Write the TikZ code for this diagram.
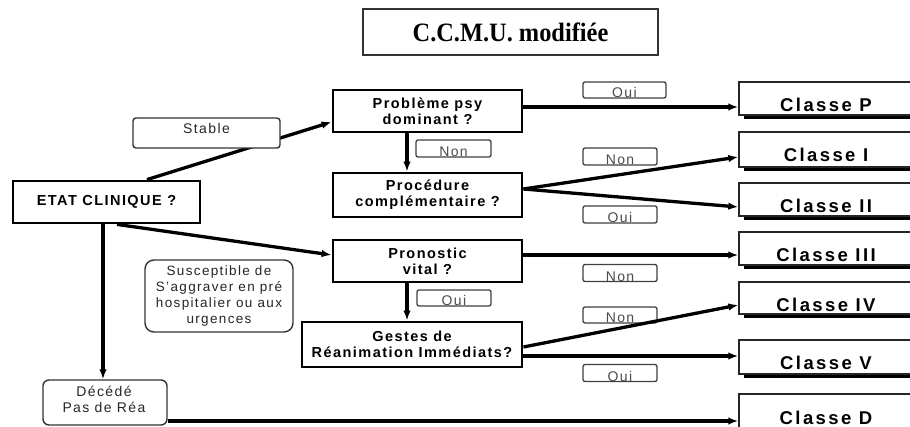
\documentclass[tikz,border=0pt]{standalone}
\usepackage{fontspec}
\setmainfont{Liberation Sans}
\newfontfamily\titlefont[FakeStretch=0.92]{Liberation Serif}
\newfontfamily\boldsp[LetterSpace=10]{Liberation Sans}
\newfontfamily\classsp[LetterSpace=13]{Liberation Sans}
\newfontfamily\regsp[LetterSpace=10]{Liberation Sans}
\usetikzlibrary{arrows.meta}
\begin{document}
\begin{tikzpicture}[x=1pt,y=-1pt,
  titlebox/.style={draw=black!80, line width=1.8pt, fill=white, inner sep=0pt,
    minimum width=295pt, minimum height=46pt,
    font=\titlefont\bfseries\fontsize{26.5}{30}\selectfont},
  mainbox/.style={draw=black, line width=2.8pt, fill=white, inner sep=0pt, align=center,
    font=\boldsp\bfseries\fontsize{14.5}{16}\selectfont},
  classbox/.style={draw=black!85, line width=1.3pt, fill=white, inner sep=0pt,
    minimum width=186pt,
    preaction={fill=black, transform canvas={xshift=5pt,yshift=-4.5pt}}},
  classtext/.style={font=\classsp\bfseries\fontsize{18.5}{20}\selectfont, inner sep=0pt},
  lblbox/.style={draw=black!75, line width=1.3pt, fill=white, rounded corners=2pt,
    minimum width=74pt, minimum height=17pt, inner sep=0pt},
  lbltext/.style={font=\regsp\fontsize{14}{16}\selectfont, text=black!70, inner sep=0pt, anchor=base},
  softbox/.style={draw=black!80, line width=1.4pt, fill=white, inner sep=0pt},
  softtext/.style={font=\regsp\fontsize{14}{16}\selectfont, text=black!85, inner sep=0pt, align=center},
  conn/.style={line width=3.3pt, -{Latex[length=10pt,width=7.5pt]}}
]
\clip (0,0) rectangle (910,427);
\fill[white] (0,0) rectangle (910,427);

% title
\node[titlebox] (title) at (510.5,32) {C.C.M.U. modifiée};

% decision boxes
\node[mainbox, minimum width=189pt, minimum height=42pt] (prob) at (427.5,111) {Problème psy\\dominant ?};
\node[mainbox, minimum width=189pt, minimum height=44pt] (proc) at (427.5,195) {Procédure\\complémentaire ?};
\node[mainbox, minimum width=189pt, minimum height=42pt] (pron) at (427.5,261) {Pronostic\\vital ?};
\node[mainbox, minimum width=220pt, minimum height=45pt] (gest) at (412,344.5) {Gestes de\\Réanimation Immédiats?};
\node[mainbox, minimum width=187pt, minimum height=42pt] (etat) at (106.5,202) {ETAT CLINIQUE ?};

% class boxes
\node[classbox, minimum height=33pt] (cP) at (832,98.5) {};
\node[classbox, minimum height=35pt] (cI) at (832,149.5) {};
\node[classbox, minimum height=33pt] (cII) at (832,199.5) {};
\node[classbox, minimum height=33pt] (cIII) at (832,248.5) {};
\node[classbox, minimum height=32pt] (cIV) at (832,298) {};
\node[classbox, minimum height=34pt] (cV) at (832,357) {};
\node[classbox, minimum height=36pt] (cD) at (832,412) {};
\node[classtext] (tP) at (826,105) {Classe P};
\node[classtext] (tI) at (826,155) {Classe I};
\node[classtext] (tII) at (826,206) {Classe II};
\node[classtext] (tIII) at (826,255) {Classe III};
\node[classtext] (tIV) at (826,305) {Classe IV};
\node[classtext] (tV) at (826,363) {Classe V};
\node[classtext] (tD) at (826,418) {Classe D};

% Oui / Non labels
\node[lblbox, minimum width=83pt, minimum height=16pt] (oui1) at (624.5,90) {};
\node[lblbox, minimum width=75pt] (non0) at (453.5,148.5) {};
\node[lblbox] (non1) at (620,156.5) {};
\node[lblbox] (oui2) at (620,214.5) {};
\node[lblbox] (non2) at (620,273) {};
\node[lblbox, minimum height=16pt] (oui3) at (454,298) {};
\node[lblbox, minimum height=16pt] (non3) at (620,315) {};
\node[lblbox] (oui4) at (620,373) {};
\node[lbltext] (toui1) at ([yshift=1pt]oui1.south) {Oui};
\node[lbltext] (tnon0) at ([yshift=1pt]non0.south) {Non};
\node[lbltext] (tnon1) at ([yshift=1pt]non1.south) {Non};
\node[lbltext] (toui2) at ([yshift=1pt]oui2.south) {Oui};
\node[lbltext] (tnon2) at ([yshift=1pt]non2.south) {Non};
\node[lbltext] (toui3) at ([yshift=1pt]oui3.south) {Oui};
\node[lbltext] (tnon3) at ([yshift=1pt]non3.south) {Non};
\node[lbltext] (toui4) at ([yshift=1pt]oui4.south) {Oui};

% connectors
\draw[conn] ([xshift=40.5pt]etat.north) -- ([yshift=-11pt]prob.west);
\draw[conn] ([yshift=4pt]prob.east) -- ([yshift=-8.5pt]cP.west);
\draw[conn] ([xshift=-20.5pt]prob.south) -- ([xshift=-20.5pt]proc.north);
\draw[conn] ([yshift=6pt]proc.east) -- ([yshift=-7.5pt]cI.west);
\draw[conn] ([yshift=6pt]proc.east) -- ([yshift=-7.5pt]cII.west);
\draw[conn] ([xshift=10.5pt]etat.south) -- ([yshift=6pt]pron.west);
\draw[conn] ([yshift=6pt]pron.east) -- ([yshift=-6.5pt]cIII.west);
\draw[conn] ([xshift=-20.5pt]pron.south) -- ([xshift=-5pt]gest.north);
\draw[conn] ([yshift=-2.5pt]gest.east) -- ([yshift=-7pt]cIV.west);
\draw[conn] ([yshift=-11.5pt]gest.east) -- ([yshift=1pt]cV.west);

% soft boxes
\node[softbox, rounded corners=3pt, minimum width=147pt, minimum height=30pt] (stable) at (206.5,133) {};
\node[softtext] (tstable) at (206.5,128) {Stable};
\node[softbox, rounded corners=9pt, minimum width=148pt, minimum height=72pt,
  font=\regsp\fontsize{13.5}{16}\selectfont, text=black!85, align=center] (susc) at (219,296)
  {Susceptible de\\S’aggraver en pré\\hospitalier ou aux\\urgences};
\node[softbox, rounded corners=6pt, minimum width=124pt, minimum height=45pt] (dec) at (105,402.5) {};
\node[softtext] (tdec) at (104,399) {Décédé\\Pas de Réa};
\draw[conn] ([xshift=-3.5pt]etat.south) -- ([xshift=-2pt]dec.north);
\draw[conn] ([yshift=-18.5pt]dec.east) -- ([yshift=-9pt]cD.west);
\end{tikzpicture}
\end{document}
